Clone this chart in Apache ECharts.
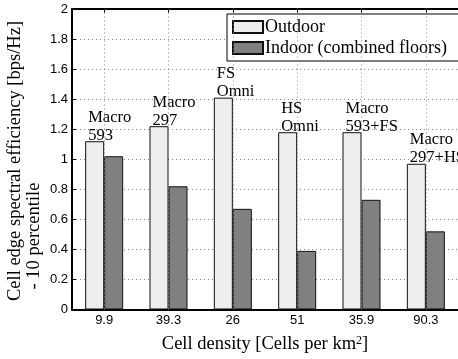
<!DOCTYPE html>
<html>
<head>
<meta charset="utf-8">
<script src="https://cdn.jsdelivr.net/npm/echarts@6/dist/echarts.min.js"></script>
<style>
  html, body { margin: 0; padding: 0; background: #fff; }
  #chart { width: 458px; height: 359px; }
</style>
</head>
<body>
<div id="chart"></div>
<script>
// Cell density categories [cells per km^2]
const densities = ['9.9', '39.3', '26', '51', '35.9', '90.3'];
// Deployment scenario written above each group
const scenarios = ['Macro\n593', 'Macro\n297', 'FS\nOmni', 'HS\nOmni', 'Macro\n593+FS', 'Macro\n297+HS'];
// 10th percentile cell edge spectral efficiency [bps/Hz]
const outdoor = [1.12, 1.22, 1.41, 1.18, 1.18, 0.97];
const indoor = [1.02, 0.82, 0.67, 0.39, 0.73, 0.52];
const yTicks = [0, 0.2, 0.4, 0.6, 0.8, 1, 1.2, 1.4, 1.6, 1.8, 2];

const serif = '"Liberation Serif", "DejaVu Serif", serif';
const sans = '"Liberation Sans", Arial, sans-serif';

const chart = echarts.init(document.getElementById('chart'), null, { renderer: 'canvas' });

const dotted = { color: '#8a8a8a', width: 1, type: [1, 3] };

chart.setOption({
  animation: false,
  backgroundColor: '#fff',
  grid: { left: 72, top: 9, right: -7, bottom: 43, containLabel: false },
  legend: {
    left: 227, top: 14,
    orient: 'vertical',
    backgroundColor: '#fff',
    borderColor: '#000', borderWidth: 1,
    padding: [4, 20, 4, 5],
    itemWidth: 30, itemHeight: 12, itemGap: 3,
    icon: 'rect',
    textStyle: { fontFamily: serif, fontSize: 18, color: '#000', padding: [0, 0, 0, -3] },
    data: ['Outdoor', 'Indoor (combined floors)']
  },
  xAxis: [
    {
      type: 'category',
      data: densities,
      position: 'bottom',
      name: 'Cell density [Cells per km{sup|2}]',
      nameLocation: 'middle',
      nameGap: 25,
      nameTextStyle: {
        fontFamily: serif, fontSize: 18.5, color: '#000',
        rich: { sup: { fontFamily: serif, fontSize: 12, verticalAlign: 'top', padding: [0, 0, 8, 0], color: '#000' } }
      },
      axisLine: { show: true, lineStyle: { color: '#000', width: 2 } },
      axisTick: { show: false },
      axisLabel: { fontFamily: sans, fontSize: 13, color: '#000', margin: 4 },
      splitLine: { show: false }
    },
    {
      type: 'category',
      data: densities,
      position: 'top',
      axisLine: { show: true, lineStyle: { color: '#000', width: 2 } },
      axisTick: { show: true, inside: true, alignWithLabel: true, length: 4, lineStyle: { color: '#000', width: 1 } },
      axisLabel: { show: false },
      splitLine: { show: false }
    }
  ],
  yAxis: {
    type: 'value',
    min: 0, max: 2, interval: 0.2,
    axisLine: { show: true, lineStyle: { color: '#000', width: 2 } },
    axisTick: { show: true, inside: true, length: 4, lineStyle: { color: '#000', width: 1 } },
    axisLabel: {
      fontFamily: sans, fontSize: 13, color: '#000', margin: 4,
      formatter: v => {
        const t = yTicks.find(x => Math.abs(x - v) < 1e-9);
        return t === undefined ? '' : String(t);
      }
    },
    splitLine: { show: true, lineStyle: dotted }
  },
  graphic: [
    {
      type: 'text', x: 15, y: 161, rotation: Math.PI / 2,
      style: { text: 'Cell edge spectral efficiency [bps/Hz]', fontFamily: serif, fontSize: 18.5, fill: '#000', align: 'center', verticalAlign: 'middle' }
    },
    {
      type: 'text', x: 34, y: 236, rotation: Math.PI / 2,
      style: { text: '- 10 percentile', fontFamily: serif, fontSize: 18.5, fill: '#000', align: 'center', verticalAlign: 'middle' }
    }
  ],
  series: [
    {
      // vertical dotted grid through each category centre
      name: 'grid',
      type: 'line',
      data: [],
      z: 1,
      silent: true,
      markLine: {
        silent: true,
        symbol: 'none',
        label: { show: false },
        lineStyle: dotted,
        data: densities.map(d => ({ xAxis: d }))
      }
    },
    {
      name: 'Outdoor',
      type: 'bar',
      data: outdoor,
      barWidth: 19,
      barGap: '0%',
      itemStyle: { color: '#eeeeee', borderColor: '#111', borderWidth: 1 },
      label: {
        show: true,
        position: [3, 3],
        verticalAlign: 'bottom',
        align: 'left',
        fontFamily: serif, fontSize: 16.5, lineHeight: 18, color: '#000',
        formatter: p => scenarios[p.dataIndex]
      },
      z: 3
    },
    {
      name: 'Indoor (combined floors)',
      type: 'bar',
      data: indoor,
      barWidth: 19,
      itemStyle: { color: '#808080', borderColor: '#111', borderWidth: 1 },
      z: 3
    }
  ]
});
</script>
</body>
</html>
